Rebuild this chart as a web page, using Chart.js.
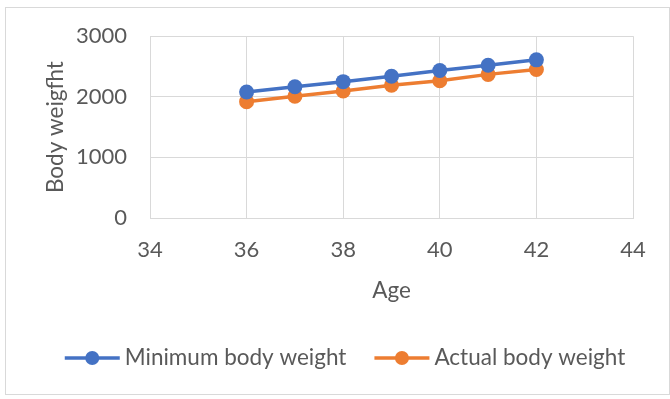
<!DOCTYPE html>
<html>
<head>
<meta charset="utf-8">
<script src="https://cdn.jsdelivr.net/npm/chart.js@4/dist/chart.umd.min.js"></script>
<style>
  html, body { margin: 0; padding: 0; background: #fff; }
  #wrap { position: relative; width: 670px; height: 399px; }
  #frame {
    position: absolute; left: 5px; top: 7px; width: 665px; height: 388px;
    border: 1px solid #d9d9d9; box-sizing: border-box;
  }
  #chart { position: absolute; left: 0; top: 0; }
</style>
</head>
<body>
<div id="wrap">
  <div id="frame"></div>
  <canvas id="chart" width="670" height="399"></canvas>
</div>
<script>
// Weight by age, two series
const ages = [36, 37, 38, 39, 40, 41, 42];
const minimumWeight = [2080, 2165, 2250, 2340, 2435, 2520, 2610];
const actualWeight = [1920, 2010, 2095, 2190, 2265, 2370, 2450];
const xTicks = [34, 36, 38, 40, 42, 44];
const yTicks = [0, 1000, 2000, 3000];
const seriesNames = ['Minimum body weight', 'Actual body weight'];
const seriesColors = ['#4472C4', '#ED7D31'];

const FONT_FAMILY = 'Lato, "Open Sans", sans-serif';
const FONT_SIZE = 22.5;
const TICK_SIZE = 22;
const TEXT_COLOR = '#595959';
const GRID_COLOR = '#d9d9d9';

// Legend drawn as Excel does it: short line with a marker in the middle
const lineLegend = {
  id: 'lineLegend',
  afterDraw(chart, args, opts) {
    const ctx = chart.ctx;
    ctx.save();
    ctx.font = FONT_SIZE + 'px ' + FONT_FAMILY;
    const markW = 55, gap = 5, space = 28;
    const items = chart.data.datasets.map(ds => ({ ds, w: ctx.measureText(ds.label).width }));
    const total = items.reduce((s, it) => s + markW + gap + it.w, 0) + space * (items.length - 1);
    let x = opts.centerX - total / 2;
    const y = opts.y;
    items.forEach(it => {
      ctx.strokeStyle = it.ds.borderColor;
      ctx.lineWidth = 3.5;
      ctx.beginPath();
      ctx.moveTo(x, y);
      ctx.lineTo(x + markW, y);
      ctx.stroke();
      ctx.fillStyle = it.ds.borderColor;
      ctx.beginPath();
      ctx.arc(x + markW / 2, y, 7, 0, Math.PI * 2);
      ctx.fill();
      ctx.fillStyle = TEXT_COLOR;
      ctx.textBaseline = 'middle';
      ctx.textAlign = 'left';
      ctx.fillText(it.ds.label, x + markW + gap, y);
      x += markW + gap + it.w + space;
    });
    ctx.restore();
  }
};

const toPoints = values => values.map((v, i) => ({ x: ages[i], y: v }));

const datasets = [minimumWeight, actualWeight].map((values, i) => ({
  label: seriesNames[i],
  data: toPoints(values),
  showLine: true,
  borderColor: seriesColors[i],
  backgroundColor: seriesColors[i],
  borderWidth: 3.5,
  pointRadius: 7.5,
  pointBorderWidth: 0,
  pointBackgroundColor: seriesColors[i]
}));

new Chart(document.getElementById('chart'), {
  type: 'scatter',
  data: { datasets },
  plugins: [lineLegend],
  options: {
    responsive: false,
    animation: false,
    layout: { padding: { left: 0, top: 36, right: 37, bottom: 81 } },
    plugins: {
      legend: { display: false },
      tooltip: { enabled: false },
      lineLegend: { centerX: 345, y: 358 }
    },
    scales: {
      x: {
        type: 'linear',
        min: xTicks[0],
        max: xTicks[xTicks.length - 1],
        afterBuildTicks: scale => { scale.ticks = xTicks.map(v => ({ value: v })); },
        afterFit: scale => { scale.height = 100; },
        grid: { color: GRID_COLOR, lineWidth: 1, drawTicks: false },
        border: { color: GRID_COLOR, width: 1 },
        ticks: {
          padding: 18.5,
          color: TEXT_COLOR,
          font: { family: FONT_FAMILY, size: TICK_SIZE },
          maxRotation: 0,
          callback: v => String(v)
        },
        title: {
          display: true,
          text: 'Age',
          color: TEXT_COLOR,
          font: { family: FONT_FAMILY, size: FONT_SIZE },
          padding: { top: 0, bottom: 13.5 }
        }
      },
      y: {
        type: 'linear',
        min: yTicks[0],
        max: yTicks[yTicks.length - 1],
        afterBuildTicks: scale => { scale.ticks = yTicks.map(v => ({ value: v })); },
        afterFit: scale => { scale.width = 150; },
        grid: { color: GRID_COLOR, lineWidth: 1, drawTicks: false },
        border: { color: GRID_COLOR, width: 1 },
        ticks: {
          padding: 23,
          color: TEXT_COLOR,
          font: { family: FONT_FAMILY, size: TICK_SIZE },
          callback: v => String(v)
        },
        title: {
          display: true,
          text: 'Body weigfht',
          color: TEXT_COLOR,
          font: { family: FONT_FAMILY, size: FONT_SIZE },
          padding: { top: 42.5, bottom: 0 }
        }
      }
    }
  }
});
</script>
</body>
</html>
